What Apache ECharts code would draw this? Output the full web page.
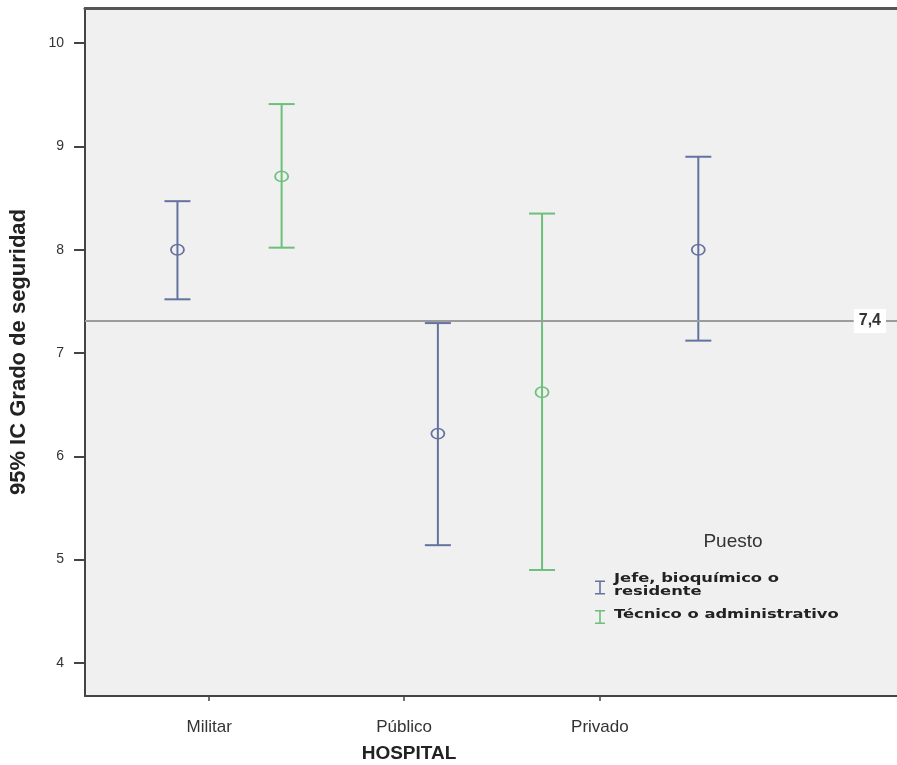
<!DOCTYPE html>
<html>
<head>
<meta charset="utf-8">
<script src="https://cdn.jsdelivr.net/npm/echarts@6/dist/echarts.min.js"></script>
<style>
  html, body { margin: 0; padding: 0; background: #fff; }
  #main { width: 897px; height: 765px; }
</style>
</head>
<body>
<div id="main"></div>
<script>
// hospitales (x = indice del grupo)
let hospitals = ['Militar', 'Público', 'Privado']
let hospitalLabelPos = [-0.078, 0.670, 1.422]   // donde SPSS dejo las etiquetas
let puestos = ['Jefe, bioquímico o residente', 'Técnico o administrativo']

// [grupo, limite inf, limite sup, media]
let jefeData = [
  [0, 7.52, 8.47, 8.00],
  [1, 5.14, 7.29, 6.22],
  [2, 7.12, 8.90, 8.00]
]
let tecnicoData = [
  [0, 8.02, 9.41, 8.71],
  [1, 4.90, 8.35, 6.62]
]

let yTicks = [4, 5, 6, 7, 8, 9, 10]
let refLine = 7.31
let refLabel = '7,4'

let colors = ['#64729f', '#6cc07a']
let offsets = [-0.2, 0.2]

function makeRender(color, off) {
  return function (params, api) {
    let x = api.value(0) + off
    let lo = api.coord([x, api.value(1)])
    let hi = api.coord([x, api.value(2)])
    let m = api.coord([x, api.value(3)])
    let half = 13
    let st = { stroke: color, lineWidth: 2, fill: null }
    return {
      type: 'group',
      children: [
        { type: 'line', shape: { x1: hi[0], y1: hi[1], x2: lo[0], y2: lo[1] }, style: st },
        { type: 'line', shape: { x1: hi[0] - half, y1: hi[1], x2: hi[0] + half, y2: hi[1] }, style: st },
        { type: 'line', shape: { x1: lo[0] - half, y1: lo[1], x2: lo[0] + half, y2: lo[1] }, style: st },
        { type: 'circle', x: m[0], y: m[1], scaleY: 0.8, shape: { cx: 0, cy: 0, r: 6.5 }, style: { stroke: color, lineWidth: 1.8, fill: null } }
      ]
    }
  }
}

// texto de la leyenda, estirado como en SPSS
let legendFont = { fontFamily: 'DejaVu Sans', fontSize: 12, fontWeight: 'bold', fill: '#222' }
function legendText(txt, x, y) {
  return {
    type: 'text', x: x, y: y, scaleX: 1.36,
    style: Object.assign({ text: txt, verticalAlign: 'middle' }, legendFont)
  }
}

let chart = echarts.init(document.getElementById('main'))

let option = {
  animation: false,
  backgroundColor: '#fff',
  grid: {
    left: 84, top: 8, right: 0, bottom: 69,
    show: true, backgroundColor: '#f0f0f0', borderWidth: 0
  },
  title: [{
    text: 'HOSPITAL', left: 404, top: 739, textAlign: 'center',
    textStyle: { fontFamily: 'Liberation Sans', fontSize: 19, fontWeight: 'bold', color: '#222' }
  }, {
    text: 'Puesto', left: 728, top: 527, textAlign: 'center',
    textStyle: { fontFamily: 'Liberation Sans', fontSize: 19, fontWeight: 'normal', color: '#333' }
  }],
  legend: {
    data: puestos,
    orient: 'vertical',
    left: 590, top: 575,
    itemGap: 15,
    itemWidth: 10, itemHeight: 15,
    icon: 'path://M0,0 H10 V1.6 H5.8 V12.4 H10 V14 H0 V12.4 H4.2 V1.6 H0 Z',
    formatter: function () { return '' }
  },
  graphic: [
    legendText('Jefe, bioquímico o', 614, 579),
    legendText('residente', 614, 592),
    legendText('Técnico o administrativo', 614, 615)
  ],
  xAxis: [{
    type: 'value',
    min: -0.555, max: 2.563,
    splitLine: { show: false },
    axisLine: { show: true, onZero: false, lineStyle: { color: '#444', width: 2 } },
    axisTick: { show: true, customValues: hospitalLabelPos, length: 5, lineStyle: { color: '#444', width: 1.5 } },
    axisLabel: {
      customValues: hospitalLabelPos,
      margin: 23,
      fontFamily: 'Liberation Sans', fontSize: 17, color: '#333',
      formatter: function (v) {
        let i = hospitalLabelPos.findIndex(p => Math.abs(p - v) < 1e-6)
        return i >= 0 ? hospitals[i] : ''
      }
    }
  }, {
    // solo el borde superior del marco
    type: 'value', position: 'top',
    min: -0.555, max: 2.563,
    splitLine: { show: false },
    axisLine: { show: true, onZero: false, lineStyle: { color: '#555', width: 3 } },
    axisTick: { show: false },
    axisLabel: { show: false }
  }],
  yAxis: {
    type: 'value',
    min: 3.68, max: 10.34,
    name: '95% IC Grado de seguridad',
    nameLocation: 'middle',
    nameGap: 55,
    nameTextStyle: { fontFamily: 'Liberation Sans', fontSize: 22, fontWeight: 'bold', color: '#222' },
    splitLine: { show: false },
    axisLine: { show: true, onZero: false, lineStyle: { color: '#444', width: 2 } },
    axisTick: { show: true, customValues: yTicks, length: 11, lineStyle: { color: '#444', width: 2 } },
    axisLabel: { customValues: yTicks, margin: 21, fontFamily: 'Liberation Sans', fontSize: 14, color: '#333' }
  },
  series: [{
    name: puestos[0],
    type: 'custom',
    renderItem: makeRender(colors[0], offsets[0]),
    itemStyle: { color: colors[0] },
    encode: { x: 0, y: [1, 2, 3] },
    data: jefeData,
    markLine: {
      silent: true,
      symbol: 'none',
      lineStyle: { color: '#9c9c9c', width: 2, type: 'solid' },
      label: {
        position: 'insideEnd', distance: 11,
        formatter: refLabel,
        backgroundColor: '#fff', padding: [5, 5, 3, 5],
        fontFamily: 'Liberation Sans', fontSize: 16, fontWeight: 'bold', color: '#333'
      },
      data: [{ yAxis: refLine }]
    },
    z: 3
  }, {
    name: puestos[1],
    type: 'custom',
    renderItem: makeRender(colors[1], offsets[1]),
    itemStyle: { color: colors[1] },
    encode: { x: 0, y: [1, 2, 3] },
    data: tecnicoData,
    z: 3
  }]
}

chart.setOption(option)
</script>
</body>
</html>
